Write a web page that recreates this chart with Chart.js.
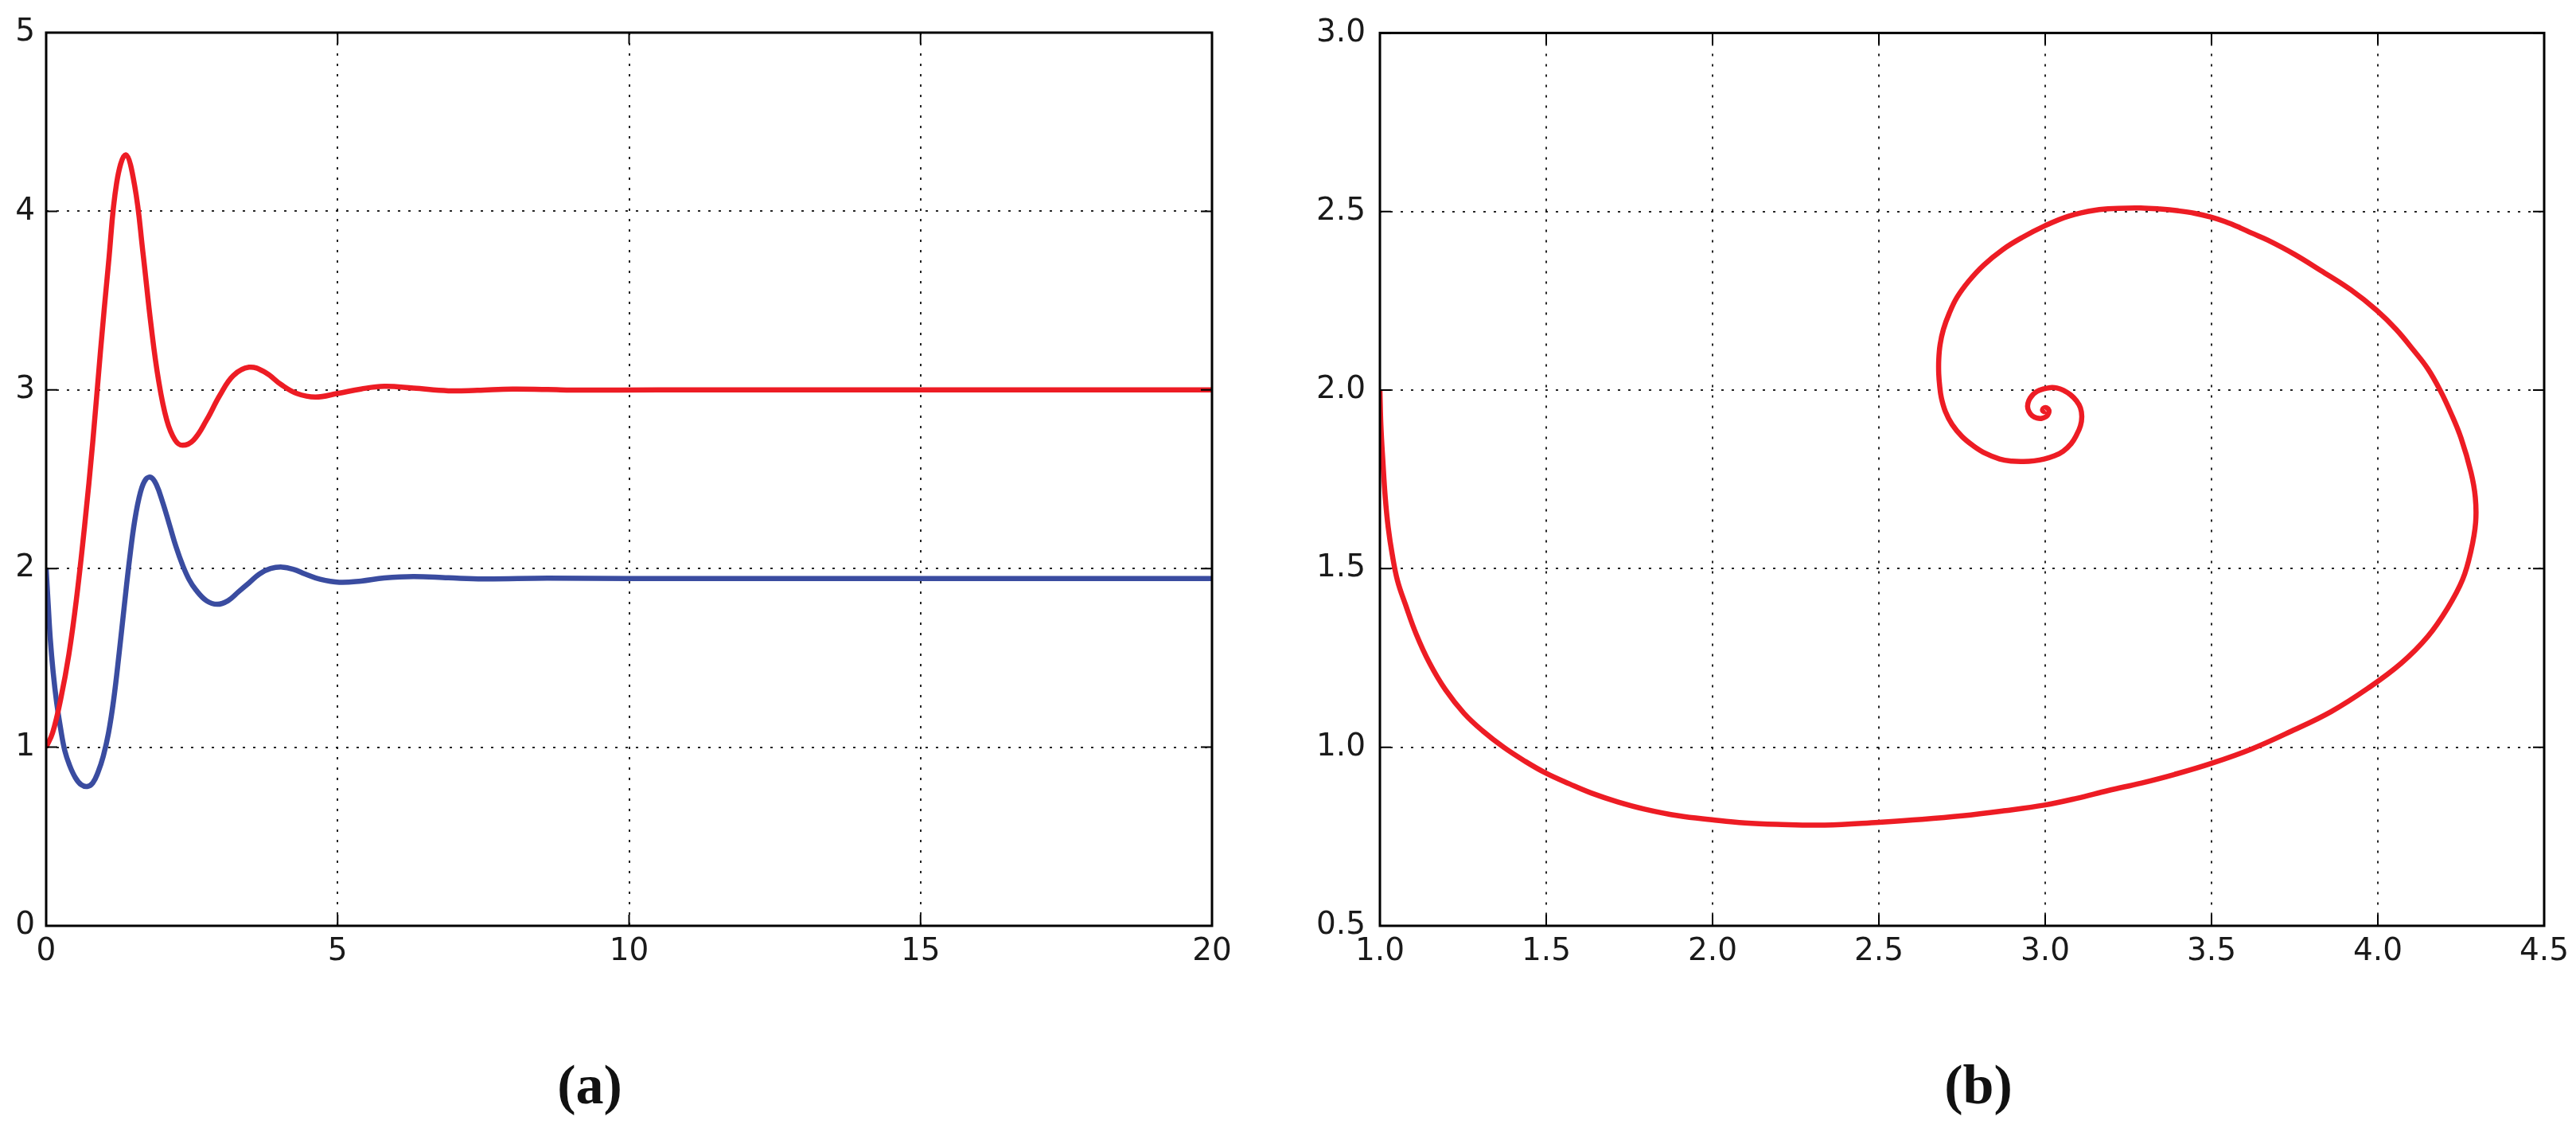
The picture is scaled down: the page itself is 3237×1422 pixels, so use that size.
<!DOCTYPE html>
<html lang="en">
<head>
  <meta charset="UTF-8" />
  <title>Predator-prey dynamics</title>
  <script src="https://cdn.jsdelivr.net/npm/chart.js"></script>
  <style>
    body {
      margin: 0;
      background: #fff;
      width: 3237px;
      height: 1422px;
      position: relative;
      overflow: hidden;
    }
    .panel { position: absolute; top: 0; }
    .panel canvas { display: block; }
    .caption {
      position: absolute;
      top: 1328px;
      width: 200px;
      text-align: center;
      font-family: "Liberation Serif", serif;
      font-weight: bold;
      font-size: 70px;
      line-height: 70px;
      color: #111;
    }
  </style>
</head>
<body>
  <div class="panel" style="left:0px"><canvas id="timeChart" width="1600" height="1250"></canvas></div>
  <div class="panel" style="left:1620px"><canvas id="phaseChart" width="1617" height="1250"></canvas></div>
  <div class="caption" style="left:641px">(a)</div>
  <div class="caption" style="left:2386px">(b)</div>

  <script>
    // (a) time series
    const preyTime = [0, 0.11, 0.25, 0.39, 0.52, 0.66, 0.80, 0.93, 1.07, 1.21, 1.365, 1.52, 1.66, 1.80, 1.93, 2.07, 2.21, 2.34, 2.53, 2.75, 2.98, 3.21, 3.48, 3.75, 4.03, 4.30, 4.62, 5.0, 5.4, 5.8, 6.3, 6.9, 7.4, 8.0, 8.6, 9.2, 10.5, 12, 20];
    const preyValues = [1.0, 1.08, 1.27, 1.52, 1.83, 2.24, 2.71, 3.21, 3.71, 4.16, 4.316, 4.14, 3.77, 3.36, 3.05, 2.83, 2.72, 2.69, 2.72, 2.83, 2.97, 3.08, 3.127, 3.10, 3.03, 2.98, 2.96, 2.98, 3.005, 3.02, 3.01, 2.995, 2.998, 3.005, 3.002, 2.999, 3.0, 3.0, 3.0];

    const predatorTime = [0, 0.035, 0.07, 0.12, 0.18, 0.25, 0.32, 0.40, 0.50, 0.60, 0.705, 0.80, 0.89, 0.98, 1.07, 1.16, 1.25, 1.34, 1.43, 1.52, 1.62, 1.71, 1.80, 1.89, 2.00, 2.12, 2.23, 2.34, 2.45, 2.57, 2.75, 2.935, 3.12, 3.30, 3.48, 3.66, 3.85, 4.05, 4.25, 4.44, 4.70, 5.03, 5.40, 5.80, 6.30, 6.90, 7.50, 8.60, 10, 12, 20];
    const predatorValues = [2.0, 1.80, 1.61, 1.42, 1.25, 1.10, 0.98, 0.90, 0.83, 0.79, 0.78, 0.80, 0.86, 0.95, 1.08, 1.27, 1.52, 1.79, 2.05, 2.27, 2.43, 2.50, 2.51, 2.47, 2.37, 2.24, 2.12, 2.02, 1.94, 1.88, 1.82, 1.80, 1.82, 1.87, 1.92, 1.97, 2.0, 2.008, 1.995, 1.97, 1.94, 1.923, 1.93, 1.947, 1.955, 1.948, 1.942, 1.946, 1.944, 1.944, 1.944];

    // (b) phase portrait: prey on x, predator on y
    const phaseX = [1.000, 1.003, 1.009, 1.016, 1.025, 1.037, 1.053, 1.077, 1.109, 1.149, 1.197, 1.253, 1.310, 1.372, 1.436, 1.500, 1.571, 1.635, 1.715, 1.795, 1.898, 1.998, 2.097, 2.193, 2.337, 2.500, 2.630, 2.751, 2.875, 2.997, 3.095, 3.190, 3.290, 3.389, 3.500, 3.620, 3.740, 3.860, 3.970, 4.070, 4.150, 4.210, 4.255, 4.280, 4.294, 4.293, 4.280, 4.250, 4.220, 4.187, 4.150, 4.107, 4.055, 3.997, 3.920, 3.828, 3.750, 3.669, 3.620, 3.585, 3.540, 3.500, 3.450, 3.400, 3.345, 3.287, 3.220, 3.151, 3.070, 2.999, 2.930, 2.873, 2.815, 2.770, 2.735, 2.712, 2.694, 2.684, 2.680, 2.680, 2.683, 2.688, 2.700, 2.720, 2.750, 2.784, 2.820, 2.863, 2.900, 2.935, 2.967, 2.997, 3.028, 3.054, 3.078, 3.094, 3.106, 3.110, 3.106, 3.094, 3.076, 3.054, 3.035, 3.015, 2.994, 2.975, 2.960, 2.951, 2.947, 2.951, 2.961, 2.975, 2.990, 3.003, 3.010, 3.011, 3.005, 2.997, 2.992, 2.996, 3.000];
    const phaseY = [2.000, 1.900, 1.800, 1.700, 1.615, 1.540, 1.466, 1.399, 1.317, 1.236, 1.161, 1.095, 1.045, 1.000, 0.961, 0.927, 0.897, 0.872, 0.847, 0.827, 0.808, 0.797, 0.788, 0.784, 0.782, 0.790, 0.798, 0.808, 0.822, 0.838, 0.857, 0.879, 0.900, 0.924, 0.955, 0.995, 1.045, 1.100, 1.165, 1.235, 1.310, 1.390, 1.470, 1.550, 1.629, 1.700, 1.770, 1.866, 1.935, 2.000, 2.060, 2.112, 2.170, 2.223, 2.280, 2.335, 2.380, 2.420, 2.440, 2.455, 2.472, 2.484, 2.495, 2.502, 2.507, 2.510, 2.509, 2.504, 2.487, 2.460, 2.427, 2.394, 2.350, 2.305, 2.260, 2.216, 2.170, 2.127, 2.085, 2.045, 2.010, 1.978, 1.940, 1.904, 1.870, 1.844, 1.823, 1.807, 1.801, 1.800, 1.802, 1.807, 1.816, 1.829, 1.850, 1.874, 1.900, 1.926, 1.950, 1.970, 1.987, 2.000, 2.006, 2.007, 2.003, 1.996, 1.984, 1.971, 1.955, 1.940, 1.928, 1.922, 1.921, 1.926, 1.935, 1.944, 1.950, 1.950, 1.944, 1.940, 1.943];

    const RED = '#ed1c24';
    const BLUE = '#3a4ca0';
    const tickFont = { family: 'DejaVu Sans', size: 39 };

    // matplotlib-classic look: box frame, ticks pointing inward on all four sides
    const inwardTicks = {
      id: 'inwardTicks',
      afterDatasetsDraw(chart) {
        const { ctx, chartArea: a, scales: { x, y } } = chart;
        const len = 14;
        ctx.save();
        ctx.strokeStyle = '#000';
        ctx.lineWidth = 2;
        ctx.beginPath();
        x.ticks.forEach(t => {
          const px = x.getPixelForValue(t.value);
          ctx.moveTo(px, a.bottom); ctx.lineTo(px, a.bottom - len);
          ctx.moveTo(px, a.top); ctx.lineTo(px, a.top + len);
        });
        y.ticks.forEach(t => {
          const py = y.getPixelForValue(t.value);
          ctx.moveTo(a.left, py); ctx.lineTo(a.left + len, py);
          ctx.moveTo(a.right, py); ctx.lineTo(a.right - len, py);
        });
        ctx.stroke();
        ctx.lineWidth = 3;
        ctx.strokeRect(a.left, a.top, a.right - a.left, a.bottom - a.top);
        ctx.restore();
      }
    };

    function scaleOpts(min, max, step, fit, pad, fmt) {
      return {
        type: 'linear',
        min: min,
        max: max,
        afterFit: fit,
        grid: { color: 'rgba(0,0,0,0.85)', lineWidth: 2, drawTicks: false },
        border: { display: false, dash: [3, 10] },
        ticks: {
          stepSize: step,
          autoSkip: false,
          maxRotation: 0,
          padding: pad,
          color: '#1a1a1a',
          font: tickFont,
          callback: fmt
        }
      };
    }

    const baseOpts = {
      responsive: false,
      animation: false,
      events: [],
      plugins: { legend: { display: false }, tooltip: { enabled: false } }
    };

    new Chart(document.getElementById('timeChart'), {
      type: 'line',
      data: {
        datasets: [
          {
            data: preyTime.map((t, i) => ({ x: t, y: preyValues[i] })),
            borderColor: RED,
            borderWidth: 6.5,
            pointRadius: 0,
            tension: 0.4
          },
          {
            data: predatorTime.map((t, i) => ({ x: t, y: predatorValues[i] })),
            borderColor: BLUE,
            borderWidth: 6.5,
            pointRadius: 0,
            tension: 0.4
          }
        ]
      },
      options: Object.assign({}, baseOpts, {
        layout: { padding: { top: 41, right: 77, left: 0, bottom: 0 } },
        scales: {
          x: scaleOpts(0, 20, 5, s => { s.height = 87; }, 9, v => String(v)),
          y: scaleOpts(0, 5, 1, s => { s.width = 58; }, 14, v => String(v))
        }
      }),
      plugins: [inwardTicks]
    });

    new Chart(document.getElementById('phaseChart'), {
      type: 'scatter',
      data: {
        datasets: [{
          data: phaseX.map((v, i) => ({ x: v, y: phaseY[i] })),
          showLine: true,
          borderColor: RED,
          borderWidth: 6.5,
          pointRadius: 0,
          tension: 0.4
        }]
      },
      options: Object.assign({}, baseOpts, {
        layout: { padding: { top: 41, right: 40, left: 0, bottom: 0 } },
        scales: {
          x: scaleOpts(1.0, 4.5, 0.5, s => { s.height = 87; }, 9, v => v.toFixed(1)),
          y: scaleOpts(0.5, 3.0, 0.5, s => { s.width = 114; }, 18, v => v.toFixed(1))
        }
      }),
      plugins: [inwardTicks]
    });
  </script>
</body>
</html>
